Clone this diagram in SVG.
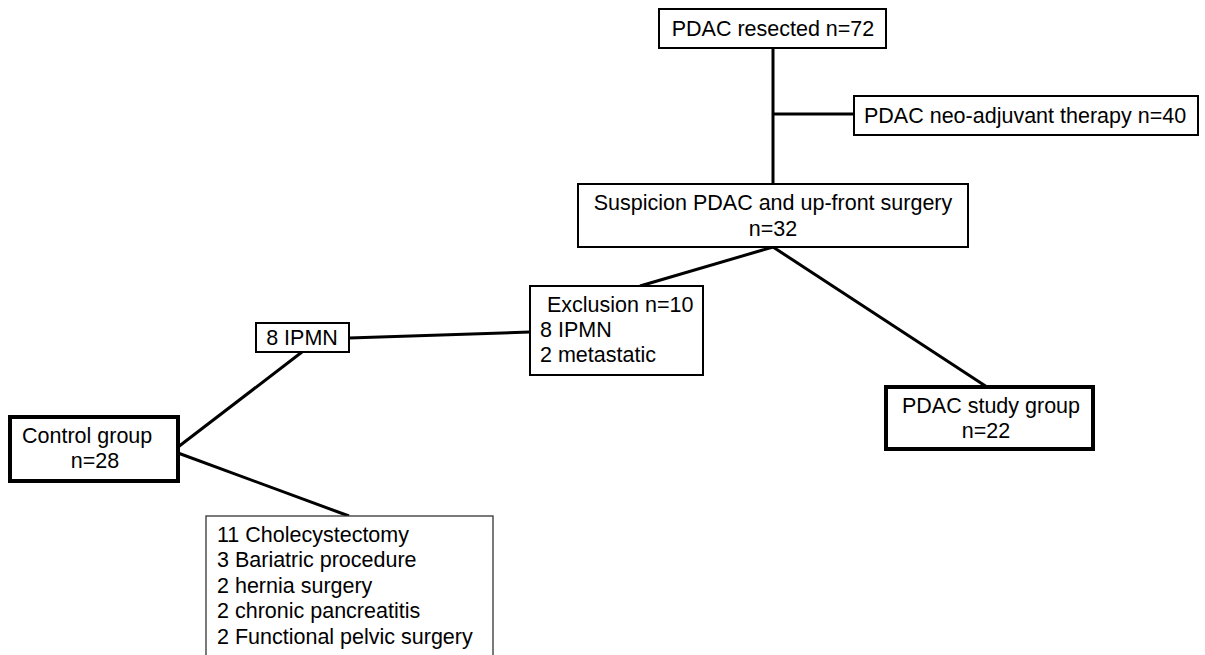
<svg xmlns="http://www.w3.org/2000/svg" width="1205" height="655" viewBox="0 0 1205 655">
<style>
.box{fill:#fff;stroke:#000;stroke-width:2}
.thick{stroke-width:4}
.thin{stroke-width:1.3;stroke:#333}
.t{font-family:"Liberation Sans",Arial,sans-serif;font-size:21.5px;fill:#000}
.c{text-anchor:middle}
.ln{stroke:#000;stroke-width:3;fill:none}
</style>
<rect width="1205" height="655" fill="#fff"/>
<g id="connectors">
<line class="ln" x1="773" y1="48" x2="773" y2="184"/>
<line class="ln" x1="773" y1="114" x2="854" y2="114"/>
<line class="ln" x1="773" y1="247" x2="640" y2="286"/>
<line class="ln" x1="773" y1="247" x2="987" y2="387"/>
<line class="ln" x1="349" y1="338" x2="530" y2="332"/>
<line class="ln" x1="302" y1="352" x2="178" y2="447"/>
<line class="ln" x1="178" y1="453" x2="349" y2="516"/>
</g>
<g id="n1"><rect class="box" x="659" y="9" width="227" height="39"/><text class="t c" x="773" y="36">PDAC resected n=72</text></g>
<g id="n2"><rect class="box" x="854" y="96" width="344" height="39"/><text class="t" x="864" y="123">PDAC neo-adjuvant therapy n=40</text></g>
<g id="n3"><rect class="box" x="578" y="184" width="390" height="63"/><text class="t c" x="773" y="210">Suspicion PDAC and up-front surgery</text><text class="t c" x="773" y="236">n=32</text></g>
<g id="n4"><rect class="box" x="530" y="286" width="173" height="89"/><text class="t" x="547" y="312">Exclusion n=10</text><text class="t" x="540" y="337">8 IPMN</text><text class="t" x="540" y="362">2 metastatic</text></g>
<g id="n5"><rect class="box" x="256" y="323" width="93" height="29"/><text class="t c" x="302" y="345">8 IPMN</text></g>
<g id="n6"><rect class="box thick" x="10" y="417" width="168" height="64"/><text class="t" x="22" y="443">Control group</text><text class="t c" x="95" y="468">n=28</text></g>
<g id="n7"><rect class="box thin" x="206" y="516" width="287" height="160"/><text class="t" x="217" y="542">11 Cholecystectomy</text><text class="t" x="217" y="567">3 Bariatric procedure</text><text class="t" x="217" y="593">2 hernia surgery</text><text class="t" x="217" y="618">2 chronic pancreatitis</text><text class="t" x="217" y="644">2 Functional pelvic surgery</text></g>
<g id="n8"><rect class="box thick" x="886" y="387" width="207" height="62"/><text class="t c" x="991" y="413">PDAC study group</text><text class="t c" x="986" y="438">n=22</text></g>
</svg>
